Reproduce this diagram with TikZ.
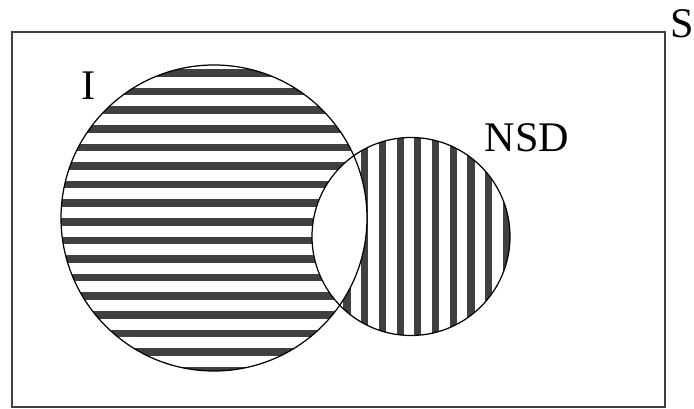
\documentclass[tikz,border=0pt]{standalone}
\usepackage{fontspec}
\setmainfont{Liberation Serif}
\usepackage{tikz}

\begin{document}
\begin{tikzpicture}[
    x=0.02cm, y=0.02cm,
    band/.style={fill=black!75},
    outline/.style={draw=black, line width=0.7pt},
    frame/.style={draw=black!75, line width=0.9pt},
    setlabel/.style={font=\fontsize{24}{28}\selectfont, inner sep=0pt}
]
    \useasboundingbox (0,0) rectangle (694,409);

    % Universe
    \draw[frame] (12,2) rectangle (665,377);
    \node[setlabel] (lblS) at (682,385.5) {S};

    % Centres of the two sets
    \coordinate (cI) at (214,191);
    \coordinate (cN) at (411,172.5);

    % NSD: vertical bands
    \begin{scope}
        \clip (cN) circle (99);
        \foreach \k in {-4,...,9}
            \fill[band] (364.7+17.7*\k-3.6,60) rectangle (364.7+17.7*\k+3.6,290);
    \end{scope}

    % I: horizontal bands
    \begin{scope}
        \clip (cI) circle (153);
        \fill[white] (cI) circle (153);
        \foreach \k in {-1,...,17}
            \fill[band] (50,336-18.6*\k-3.8) rectangle (380,336-18.6*\k+3.8);
    \end{scope}

    % Intersection left blank
    \begin{scope}
        \clip (cI) circle (153);
        \fill[white] (cN) circle (99);
    \end{scope}

    % Outlines
    \draw[outline] (cI) circle (153);
    \draw[outline] (cN) circle (99);

    % Labels
    \node[setlabel] (lblI) at (89,323.5) {I};
    \node[setlabel] (lblNSD) at (527,271.5) {NSD};

\end{tikzpicture}
\end{document}
